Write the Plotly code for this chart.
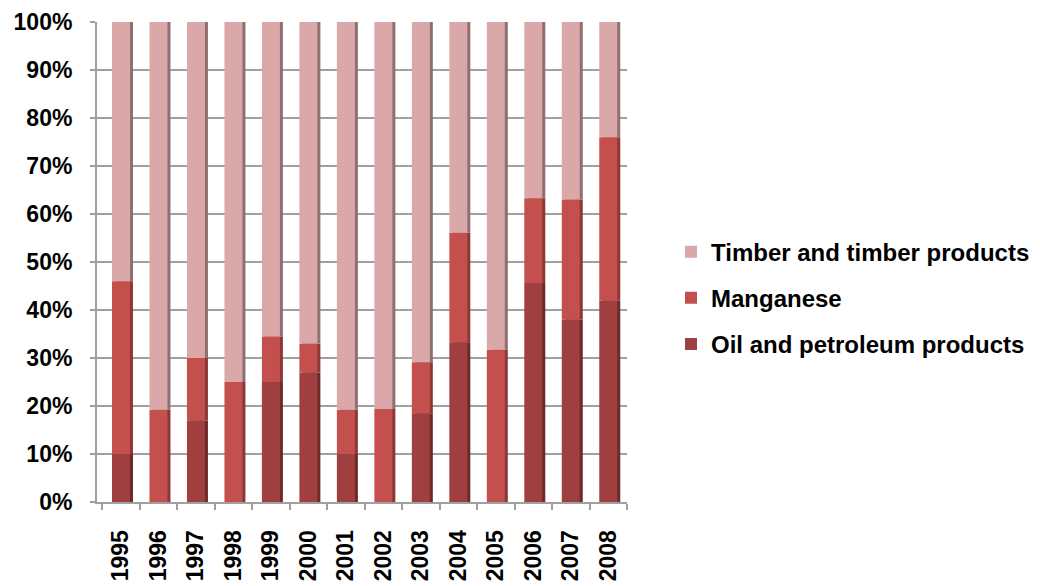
import plotly.graph_objects as go

# Dados (leitura aproximada do gráfico original, em %)
anos = ["1995", "1996", "1997", "1998", "1999", "2000", "2001",
        "2002", "2003", "2004", "2005", "2006", "2007", "2008"]
petroleo = [10, 0, 17, 0, 25, 27, 10, 0, 18.5, 33.3, 0, 45.6, 38, 42]
manganes = [36, 19.2, 13, 25, 9.5, 6, 9.2, 19.4, 10.6, 22.8, 31.7, 17.7, 25, 34]
madeira = [54, 80.8, 70, 75, 65.5, 67, 80.8, 80.6, 70.9, 43.9, 68.3, 36.7, 37, 24]

series = [
    ("Oil and petroleum products", petroleo, "#A03F3F", "#6E2A2A"),
    ("Manganese", manganes, "#C4504E", "#8C3836"),
    ("Timber and timber products", madeira, "#DBA8A9", "#8F6F6F"),
]

FONTE = dict(family="Liberation Sans, Arial, sans-serif", size=23,
             color="#000000", weight="bold")
CINZA = "#A0A0A0"

fig = go.Figure()

# base de cada bloco empilhado (soma acumulada das séries anteriores)
bases = []
acum = [0] * len(anos)
for nome, valores, cor, sombra in series:
    bases.append(list(acum))
    acum = [a + v for a, v in zip(acum, valores)]

# lateral escura (efeito 3D) desenhada por trás
for (nome, valores, cor, sombra), base in zip(series, bases):
    fig.add_trace(go.Bar(
        x=anos, y=valores, base=base, width=0.48, offset=-0.16,
        marker=dict(color=sombra, line_width=0),
        showlegend=False, hoverinfo="skip",
    ))

# face frontal das colunas (timber fica no topo da legenda)
for rank, ((nome, valores, cor, sombra), base) in enumerate(zip(series, bases)):
    fig.add_trace(go.Bar(
        x=anos, y=valores, base=base, width=0.48, offset=-0.24,
        name=nome, legendgroup=nome, legendrank=3 - rank,
        marker=dict(color=cor, line_width=0),
    ))

fig.update_layout(
    width=1040, height=586,
    barmode="overlay",
    plot_bgcolor="white", paper_bgcolor="white",
    margin=dict(l=89, r=421, t=14, b=92, autoexpand=False),
    font=FONTE,
    legend=dict(
        traceorder="grouped", tracegroupgap=12,
        xref="container", yref="container",
        x=0.6375, y=0.505, xanchor="left", yanchor="middle",
        font=dict(size=24, weight="bold"),
        itemwidth=30,
    ),
)

fig.update_xaxes(
    type="category", range=[-0.64, 13.5], automargin=False,
    tickangle=-90, tickfont=FONTE, ticklabeloverflow="allow",
    showline=True, linecolor=CINZA, linewidth=2,
    ticks="outside", tickson="boundaries", ticklen=6, tickcolor=CINZA, tickwidth=2,
    showgrid=False, ticklabelstandoff=17,
)

fig.update_yaxes(
    range=[0, 100], dtick=10, ticksuffix="%", tickfont=FONTE, automargin=False,
    ticklabeloverflow="allow",
    showline=True, linecolor=CINZA, linewidth=2,
    ticks="outside", ticklen=5, tickcolor=CINZA, tickwidth=2,
    showgrid=True, gridcolor=CINZA, gridwidth=1.5,
    ticklabelstandoff=13, zeroline=False,
)

fig.write_html("out.html")
